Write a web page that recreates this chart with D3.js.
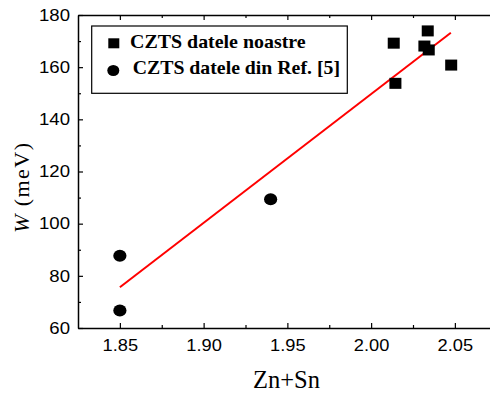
<!DOCTYPE html>
<html><head><meta charset="utf-8">
<script src="https://cdn.jsdelivr.net/npm/d3@7"></script>
<style>body{margin:0;background:#fff}svg{display:block}</style>
</head><body><svg id="c" width="490" height="393"></svg>
<script>
const ourX = [2.0135, 2.0338, 2.0318, 2.0344, 2.0478, 2.0145];
const ourW = [169.2, 173.9, 168.1, 166.6, 160.8, 153.8];
const refX = [1.85, 1.85, 1.94];
const refW = [87.7, 66.7, 109.4];
const fitX = [1.85, 2.0476];
const fitW = [75.6, 173.2];
const xTicks = [1.85, 1.90, 1.95, 2.00, 2.05];
const xMinor = [1.875, 1.925, 1.975, 2.025];
const yTicks = [60, 80, 100, 120, 140, 160, 180];
const yMinor = [70, 90, 110, 130, 150, 170];
const legendLabels = ["CZTS datele noastre", "CZTS datele din Ref. [5]"];

const svg = d3.select("#c");
const L = 78, T = 15, B = 328;
const x = d3.scaleLinear().domain([1.825, 2.075]).range([L, L + 0.25 * 1675]);
const y = d3.scaleLinear().domain([60, 180]).range([B, T]);

const sans = "'Liberation Sans', Arial, sans-serif";
const serif = "'Liberation Serif', 'Times New Roman', serif";

function styleAxis(g) {
  g.select(".domain").attr("stroke", "#000").attr("stroke-width", 1.5);
  g.selectAll(".tick line").attr("stroke", "#000").attr("stroke-width", 1.2);
  g.selectAll("text").attr("fill", "#000").style("font-family", sans).style("font-size", "16.3px");
}

// bottom
const gb = svg.append("g").attr("transform", `translate(0,${B})`)
  .call(d3.axisBottom(x).tickValues(xTicks).tickFormat(d3.format(".2f")).tickSizeInner(-5).tickSizeOuter(0).tickPadding(11));
styleAxis(gb);
gb.selectAll("text").attr("transform", "scale(1.12,1)");
svg.append("g").attr("transform", `translate(0,${B})`)
  .call(d3.axisBottom(x).tickValues(xMinor).tickFormat("").tickSizeInner(-3).tickSizeOuter(0))
  .call(g => { g.select(".domain").remove(); g.selectAll("line").attr("stroke", "#000").attr("stroke-width", 1.2); });

// top
const gt = svg.append("g").attr("transform", `translate(0,${T})`)
  .call(d3.axisTop(x).tickValues(xTicks).tickFormat("").tickSizeInner(-5).tickSizeOuter(0));
styleAxis(gt);
svg.append("g").attr("transform", `translate(0,${T})`)
  .call(d3.axisTop(x).tickValues(xMinor).tickFormat("").tickSizeInner(-3).tickSizeOuter(0))
  .call(g => { g.select(".domain").remove(); g.selectAll("line").attr("stroke", "#000").attr("stroke-width", 1.2); });

// left
const gl = svg.append("g").attr("transform", `translate(${L},0)`)
  .call(d3.axisLeft(y).tickValues(yTicks).tickSizeInner(-5).tickSizeOuter(0).tickPadding(7));
styleAxis(gl);
gl.selectAll("text").attr("transform", "scale(1.14,1)");
svg.append("g").attr("transform", `translate(${L},0)`)
  .call(d3.axisLeft(y).tickValues(yMinor).tickFormat("").tickSizeInner(-3).tickSizeOuter(0))
  .call(g => { g.select(".domain").remove(); g.selectAll("line").attr("stroke", "#000").attr("stroke-width", 1.2); });

// right border (off-canvas mostly)
svg.append("line").attr("x1", x(2.075)).attr("x2", x(2.075)).attr("y1", T).attr("y2", B)
  .attr("stroke", "#000").attr("stroke-width", 1.5);

// fit line
svg.append("path")
  .datum(fitX.map((d, i) => [d, fitW[i]]))
  .attr("d", d3.line().x(d => x(d[0])).y(d => y(d[1])))
  .attr("stroke", "#ff0000").attr("stroke-width", 2).attr("fill", "none");

// squares
svg.selectAll("rect.sq").data(ourX.map((d, i) => [d, ourW[i]])).join("rect")
  .attr("class", "sq")
  .attr("x", d => x(d[0]) - 6).attr("y", d => y(d[1]) - 5.5)
  .attr("width", 12).attr("height", 11).attr("fill", "#000");

// circles
svg.selectAll("ellipse.ci").data(refX.map((d, i) => [d, refW[i]])).join("ellipse")
  .attr("class", "ci")
  .attr("cx", d => x(d[0])).attr("cy", d => y(d[1]))
  .attr("rx", 6.6).attr("ry", 6).attr("fill", "#000");

// legend
svg.append("rect").attr("x", 91.7).attr("y", 26).attr("width", 255.6).attr("height", 67.3)
  .attr("fill", "#fff").attr("stroke", "#000").attr("stroke-width", 1.2);
svg.append("rect").attr("x", 108.3).attr("y", 38.3).attr("width", 11).attr("height", 10).attr("fill", "#000");
svg.append("ellipse").attr("cx", 113.3).attr("cy", 70.5).attr("rx", 6).attr("ry", 5.6).attr("fill", "#000");
svg.append("text").attr("x", 130).attr("y", 47.7).text(legendLabels[0])
  .style("font-family", serif).style("font-weight", "bold").style("font-size", "19.5px")
  .attr("textLength", 175.7).attr("lengthAdjust", "spacingAndGlyphs");
svg.append("text").attr("x", 132.7).attr("y", 73.5).text(legendLabels[1])
  .style("font-family", serif).style("font-weight", "bold").style("font-size", "19.5px")
  .attr("textLength", 207.3).attr("lengthAdjust", "spacingAndGlyphs");

// axis titles
svg.append("text").attr("x", 286.5).attr("y", 388).attr("text-anchor", "middle")
  .style("font-family", serif).style("font-size", "24.5px").text("Zn+Sn");
const yt = svg.append("text").attr("transform", "translate(29,233) rotate(-90)")
  .style("font-family", serif).style("font-size", "22px")
  .attr("textLength", 90).attr("lengthAdjust", "spacing");
yt.append("tspan").style("font-style", "italic").text("W");
yt.append("tspan").text(" (meV)");
</script></body></html>
